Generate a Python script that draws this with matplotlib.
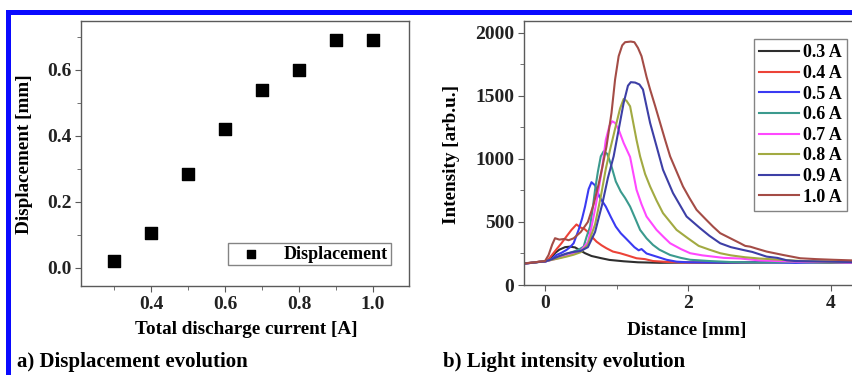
import matplotlib
matplotlib.use("Agg")
import matplotlib.pyplot as plt
from matplotlib.ticker import MultipleLocator
from matplotlib.patches import Rectangle

# panel a) displacement vs current
current = [0.3, 0.4, 0.5, 0.6, 0.7, 0.8, 0.9, 1.0]
displacement = [0.02, 0.107, 0.285, 0.42, 0.54, 0.60, 0.69, 0.69]

# panel b) intensity profiles, one pair of lists per current
dist_03 = [-0.3, -0.2, -0.1, 0.0, 0.05, 0.1, 0.15, 0.2, 0.28, 0.35, 0.42, 0.5, 0.56, 0.65, 0.79, 0.9,
           1.1, 1.3, 1.6, 2.0, 2.5, 3.0, 3.5, 4.0, 4.3]
int_03 = [170, 175, 182, 188, 200, 228, 258, 280, 300, 304, 298, 272, 252, 230, 212, 199,
          188, 180, 176, 178, 176, 180, 183, 178, 182]

dist_04 = [-0.3, -0.2, -0.1, 0.0, 0.05, 0.1, 0.17, 0.23, 0.3, 0.37, 0.44, 0.5, 0.55, 0.6, 0.66, 0.72,
           0.79, 0.86, 0.95, 1.05, 1.15, 1.28, 1.4, 1.51, 1.7, 2.0, 2.5, 3.0, 3.5, 4.0, 4.3]
int_04 = [172, 176, 183, 190, 205, 240, 290, 331, 385, 437, 480, 455, 445, 420, 380, 344,
          315, 291, 265, 252, 235, 212, 205, 190, 183, 178, 180, 178, 182, 180, 178]

dist_05 = [-0.3, -0.2, -0.1, 0.0, 0.08, 0.16, 0.23, 0.3, 0.35, 0.4, 0.47, 0.52, 0.56, 0.61, 0.65, 0.7,
           0.76, 0.85, 0.92, 0.99, 1.06, 1.13, 1.19, 1.25, 1.31, 1.35, 1.42, 1.56, 1.7, 1.84, 2.0,
           2.5, 3.0, 3.5, 4.0, 4.3]
int_05 = [170, 175, 182, 185, 200, 238, 255, 278, 300, 331, 437, 530, 622, 760, 815, 790,
          700, 622, 540, 463, 410, 370, 335, 300, 275, 285, 250, 225, 200, 185, 180,
          178, 180, 175, 182, 178]

dist_06 = [-0.3, -0.2, -0.1, 0.0, 0.1, 0.2, 0.3, 0.4, 0.47, 0.54, 0.58, 0.63, 0.67, 0.7, 0.74, 0.78,
           0.82, 0.87, 0.92, 0.99, 1.06, 1.12, 1.19, 1.26, 1.33, 1.42, 1.51, 1.6, 1.75, 1.9, 2.03,
           2.3, 2.6, 3.0, 3.5, 4.0, 4.3]
int_06 = [172, 175, 182, 186, 205, 225, 245, 265, 280, 304, 380, 463, 620, 755, 900, 1020,
          1060, 1040, 960, 821, 740, 690, 622, 530, 437, 370, 318, 280, 238, 215, 200,
          190, 182, 178, 182, 178, 180]

dist_07 = [-0.3, -0.2, -0.1, 0.0, 0.1, 0.2, 0.3, 0.4, 0.5, 0.6, 0.65, 0.7, 0.75, 0.8, 0.85, 0.9,
           0.94, 0.98, 1.03, 1.1, 1.19, 1.28, 1.35, 1.42, 1.56, 1.66, 1.75, 1.9, 2.03, 2.2, 2.35,
           2.5, 2.73, 3.0, 3.5, 4.0, 4.3]
int_07 = [170, 176, 183, 186, 200, 215, 230, 250, 270, 340, 460, 600, 760, 930, 1150, 1260,
          1298, 1285, 1232, 1126, 1015, 755, 640, 543, 437, 380, 331, 285, 252, 235, 225,
          215, 210, 195, 185, 182, 178]

dist_08 = [-0.3, -0.2, -0.1, 0.0, 0.1, 0.2, 0.3, 0.4, 0.5, 0.6, 0.7, 0.78, 0.85, 0.91, 1.0, 1.05,
           1.1, 1.14, 1.19, 1.28, 1.33, 1.4, 1.47, 1.56, 1.65, 1.75, 1.84, 2.0, 2.15, 2.3, 2.45,
           2.6, 2.8, 3.0, 3.3, 3.6, 4.0, 4.3]
int_08 = [172, 176, 183, 188, 200, 212, 225, 240, 260, 320, 480, 700, 920, 1073, 1285, 1400,
          1475, 1460, 1417, 1150, 1020, 880, 781, 670, 570, 500, 437, 370, 310, 280, 252,
          235, 220, 210, 200, 190, 185, 182]

dist_09 = [-0.3, -0.2, -0.1, 0.0, 0.1, 0.2, 0.3, 0.4, 0.5, 0.6, 0.7, 0.8, 0.88, 0.96, 1.03, 1.1,
           1.16, 1.2, 1.26, 1.32, 1.37, 1.42, 1.47, 1.56, 1.65, 1.79, 1.98, 2.17, 2.3, 2.45, 2.6,
           2.77, 2.9, 3.1, 3.25, 3.38, 3.5, 3.7, 4.0, 4.3]
int_09 = [170, 175, 182, 186, 205, 230, 250, 262, 270, 300, 420, 640, 850, 1020, 1232, 1444,
          1580, 1608, 1605, 1590, 1550, 1417, 1285, 1100, 914, 729, 543, 450, 390, 331, 300,
          278, 262, 225, 215, 196, 190, 188, 185, 182]

dist_10 = [-0.3, -0.2, -0.1, 0.0, 0.05, 0.1, 0.14, 0.2, 0.27, 0.33, 0.4, 0.5, 0.6, 0.68, 0.75, 0.8,
           0.86, 0.93, 0.98, 1.03, 1.08, 1.12, 1.2, 1.25, 1.3, 1.35, 1.42, 1.47, 1.54, 1.61, 1.68,
           1.75, 1.84, 1.93, 2.02, 2.12, 2.25, 2.35, 2.45, 2.59, 2.73, 2.8, 2.87, 2.95, 3.1, 3.33,
           3.57, 3.8, 4.03, 4.3]
int_10 = [170, 176, 183, 190, 238, 320, 371, 360, 365, 355, 370, 420, 500, 640, 800, 930,
          1099, 1364, 1629, 1814, 1900, 1925, 1930, 1925, 1880, 1814, 1650, 1550, 1420, 1285, 1150,
          1020, 900, 781, 690, 596, 520, 463, 411, 371, 331, 310, 304, 290, 265, 238,
          212, 205, 200, 195]

labels = ["0.3 A", "0.4 A", "0.5 A", "0.6 A", "0.7 A", "0.8 A", "0.9 A", "1.0 A"]
colors = ["#2e2e2e", "#ec4338", "#3a3af2", "#3b9a8e", "#ff48ff", "#a2aa42", "#3d3fa6", "#a44c46"]

W, H = 852, 375
plt.rcParams["font.family"] = ["Liberation Serif", "DejaVu Serif"]
plt.rcParams["font.weight"] = "bold"
fig = plt.figure(figsize=(W / 100, H / 100), dpi=100)

spine_col = "#5a5a5a"


def style_axes(ax):
    for s in ax.spines.values():
        s.set_color(spine_col)
        s.set_linewidth(1.0)
    ax.tick_params(which="both", direction="out", top=False, right=False,
                   colors=spine_col, labelcolor="#222222", labelsize=14, pad=3)
    ax.tick_params(which="major", length=4)
    ax.tick_params(which="minor", length=3)


# ---- panel a
ax1 = fig.add_axes([81 / W, 1 - 286 / H, 328 / W, 265 / H])
ax1.scatter(current, displacement, marker="s", s=70, color="black", label="Displacement", zorder=3)
ax1.set_xlim(0.211, 1.097)
ax1.set_ylim(-0.055, 0.748)
ax1.set_xticks([0.4, 0.6, 0.8, 1.0])
ax1.set_yticks([0.0, 0.2, 0.4, 0.6])
ax1.xaxis.set_minor_locator(MultipleLocator(0.1))
ax1.yaxis.set_minor_locator(MultipleLocator(0.1))
style_axes(ax1)
leg1 = ax1.legend(loc="upper left", bbox_to_anchor=(228 / W, 1 - 243 / H), bbox_transform=fig.transFigure,
                  borderaxespad=0, fancybox=False, fontsize=13, markerscale=0.7,
                  handletextpad=0.75, borderpad=0.15, handlelength=2.2)
leg1.get_frame().set_edgecolor("#666666")
leg1.get_frame().set_linewidth(1.0)

# ---- panel b
ax2 = fig.add_axes([524 / W, 1 - 285 / H, 332 / W, 264 / H])
curves = [(dist_03, int_03), (dist_04, int_04), (dist_05, int_05), (dist_06, int_06),
          (dist_07, int_07), (dist_08, int_08), (dist_09, int_09), (dist_10, int_10)]
for (d, v), lab, c in zip(curves, labels, colors):
    ax2.plot(d, v, color=c, lw=1.5, label=lab)
ax2.set_xlim(-0.294, 4.35)
ax2.set_ylim(0, 2093)
ax2.set_xticks([0, 2, 4])
ax2.set_yticks([0, 500, 1000, 1500, 2000])
ax2.xaxis.set_minor_locator(MultipleLocator(1))
ax2.yaxis.set_minor_locator(MultipleLocator(250))
style_axes(ax2)
leg2 = ax2.legend(loc="upper left", bbox_to_anchor=(754 / W, 1 - 39 / H), bbox_transform=fig.transFigure,
                  borderaxespad=0, fancybox=False, fontsize=13, handlelength=2.2,
                  handletextpad=0.2, labelspacing=0.2, borderpad=0.3)
leg2.get_frame().set_edgecolor("#666666")
leg2.get_frame().set_linewidth(1.0)

# axis labels
fig.text(246 / W, 1 - 330 / H, "Total discharge current [A]", ha="center", va="center", fontsize=13.8)
fig.text(25 / W, 1 - 154 / H, "Displacement [mm]", ha="center", va="center", rotation=90, fontsize=13.8)
fig.text(687 / W, 1 - 330 / H, "Distance [mm]", ha="center", va="center", fontsize=13.8)
fig.text(452 / W, 1 - 154 / H, "Intensity [arb.u.]", ha="center", va="center", rotation=90, fontsize=13.8)

# panel captions
fig.text(17 / W, 1 - 362 / H, "a) Displacement evolution", ha="left", va="center", fontsize=15)
fig.text(443 / W, 1 - 362 / H, "b) Light intensity evolution", ha="left", va="center", fontsize=15)

# blue frame at top and left edge
fig.add_artist(Rectangle((6 / W, 1 - 15 / H), 1, 5 / H, transform=fig.transFigure,
                         color="#0a0aff", lw=0))
fig.add_artist(Rectangle((6 / W, 0), 5 / W, 1 - 10 / H, transform=fig.transFigure,
                         color="#0a0aff", lw=0))

fig.savefig("out.png", dpi=100)
